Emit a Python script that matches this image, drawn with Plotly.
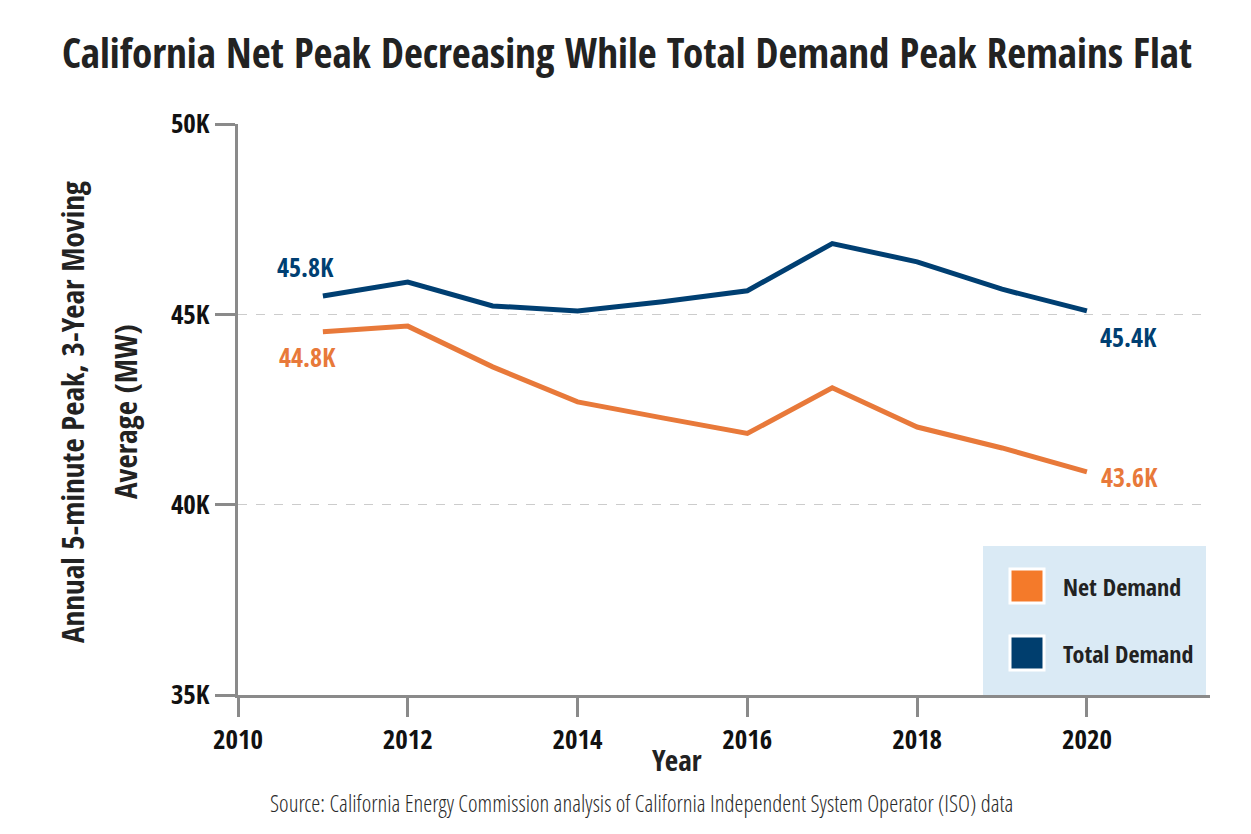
import plotly.graph_objects as go

years = [2011, 2012, 2013, 2014, 2015, 2016, 2017, 2018, 2019, 2020]
total_demand = [45480, 45850, 45220, 45090, 45330, 45620, 46860, 46380, 45660, 45090]
net_demand = [44540, 44690, 43620, 42700, 42280, 41870, 43070, 42040, 41490, 40860]

y_ticks = [35000, 40000, 45000, 50000]
y_tick_labels = ["35K", "40K", "45K", "50K"]
x_ticks = [2010, 2012, 2014, 2016, 2018, 2020]

start_labels = ["45.8K", "44.8K"]
end_labels = ["45.4K", "43.6K"]

NAVY = "#003f72"
ORANGE = "#e8793a"
FONT = "Open Sans Condensed, Roboto Condensed, Liberation Sans Narrow, Roboto, sans-serif"
LIGHT = "Open Sans Condensed Light, Roboto Condensed Light, " + FONT
AXIS = "#8a8a8a"

# the page has an 8px body margin, so everything is laid out 8px up/left
OFF = 8
W, H = 1251 - OFF, 834 - OFF
L, R, T, B = 238 - OFF, 1210 - OFF, 124 - OFF, 695 - OFF

# screen pixels -> paper coordinates
def px(x):
    return (x - OFF - L) / (R - L)
def py(y):
    return (B - (y - OFF)) / (B - T)

fig = go.Figure()
fig.add_trace(go.Scatter(x=years, y=total_demand, mode="lines", name="Total Demand",
                         line=dict(color=NAVY, width=5)))
fig.add_trace(go.Scatter(x=years, y=net_demand, mode="lines", name="Net Demand",
                         line=dict(color=ORANGE, width=5)))

annotations = []
# value labels at both ends of each line
label_font = 26
annotations.append(dict(x=years[0], y=total_demand[0], text="<b>" + start_labels[0] + "</b>",
                        xshift=-17, yshift=29, showarrow=False, font=dict(size=label_font, color=NAVY)))
annotations.append(dict(x=years[0], y=net_demand[0], text="<b>" + start_labels[1] + "</b>",
                        xshift=-15, yshift=-25, showarrow=False, font=dict(size=label_font, color=ORANGE)))
annotations.append(dict(x=years[-1], y=total_demand[-1], text="<b>" + end_labels[0] + "</b>",
                        xshift=42, yshift=-26, showarrow=False, font=dict(size=label_font, color=NAVY)))
annotations.append(dict(x=years[-1], y=net_demand[-1], text="<b>" + end_labels[1] + "</b>",
                        xshift=43, yshift=-5, showarrow=False, font=dict(size=label_font, color=ORANGE)))

# y axis title, two lines placed separately for the wider line gap
for text, cx in [("Annual 5-minute Peak, 3-Year Moving", 72), ("Average (MW)", 125)]:
    annotations.append(dict(xref="paper", yref="paper", x=px(cx), y=py(412), textangle=-90,
                            xanchor="center", yanchor="middle",
                            text="<b>" + text + "</b>", showarrow=False,
                            font=dict(size=31, color="#222222")))
# x axis title
annotations.append(dict(xref="paper", yref="paper", x=px(677), y=py(759),
                        xanchor="center", yanchor="middle",
                        text="<b>Year</b>", showarrow=False,
                        font=dict(size=29, color="#222222")))
# source line
annotations.append(dict(xref="paper", yref="paper", x=px(641), y=py(803),
                        xanchor="center", yanchor="middle",
                        text="Source: California Energy Commission analysis of California Independent System Operator (ISO) data",
                        showarrow=False, font=dict(size=23, color="#2a2a2a", family=LIGHT, weight=300)))

shapes = [dict(type="rect", xref="paper", yref="paper", x0=px(983), x1=px(1206), y0=0, y1=py(546),
               fillcolor="#daeaf5", line=dict(width=0), layer="below")]
legend_items = [("Net Demand", "#f47a2a", 586), ("Total Demand", "#003e6e", 653)]
for name, color, cy in legend_items:
    shapes.append(dict(type="rect", xref="paper", yref="paper",
                       x0=px(1010), x1=px(1044), y0=py(cy + 17), y1=py(cy - 17),
                       fillcolor=color, line=dict(color="white", width=3)))
    annotations.append(dict(xref="paper", yref="paper", x=px(1061), y=py(cy),
                            xanchor="left", yanchor="middle",
                            text="<b>" + name + "</b>", showarrow=False,
                            font=dict(size=24, color="#222222")))

fig.update_layout(
    width=W, height=H,
    margin=dict(l=L, r=W - R, t=T, b=H - B),
    plot_bgcolor="white", paper_bgcolor="white",
    font=dict(family=FONT, color="#111111"),
    showlegend=False,
    title=dict(text="<b>California Net Peak Decreasing While Total Demand Peak Remains Flat</b>",
               x=(627 - OFF) / W, xanchor="center", y=1 - (54 - OFF) / H, yanchor="middle",
               font=dict(size=41, color="#222222")),
    annotations=annotations,
    shapes=shapes,
)
fig.update_xaxes(range=[2010, 2021.45], tickvals=x_ticks, showgrid=False, zeroline=False,
                 showline=True, linecolor=AXIS, linewidth=3, automargin=False,
                 ticks="outside", ticklen=19, tickwidth=3, tickcolor=AXIS,
                 tickfont=dict(size=27, color="#111111", weight="bold"))
fig.update_yaxes(range=[35000, 50000], tickvals=y_ticks, ticktext=y_tick_labels,
                 showgrid=True, gridcolor="#cccccc", griddash="dash", gridwidth=1, zeroline=False,
                 showline=True, linecolor=AXIS, linewidth=3, automargin=False,
                 ticks="outside", ticklen=20, tickwidth=3, tickcolor=AXIS,
                 tickfont=dict(size=27, color="#111111", weight="bold"))

fig.write_html("out.html")
